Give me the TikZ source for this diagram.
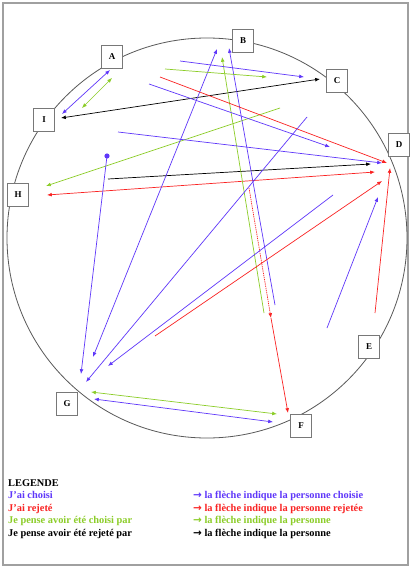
\documentclass[tikz,border=0pt]{standalone}
\usepackage{fontspec}
\setmainfont{Liberation Serif}
\newfontfamily\arrowfont{DejaVu Sans}
\usetikzlibrary{arrows.meta}
\definecolor{cblue}{RGB}{95,55,250}
\definecolor{cred}{RGB}{250,35,35}
\definecolor{cgreen}{RGB}{140,205,40}
\definecolor{cframe}{RGB}{160,160,160}
\definecolor{cbox}{RGB}{120,120,120}
\newcommand{\legarrow}{{\arrowfont\bfseries\fontsize{10.5}{12}\selectfont →}}
\begin{document}
\begin{tikzpicture}[x=1bp,y=-1bp,
  pers/.style={draw=cbox, line width=0.8bp, fill=white, minimum width=21bp, minimum height=23bp, inner sep=0pt, font=\bfseries\fontsize{9}{10}\selectfont},
  tipx/.tip={Latex[length=4.8bp,width=3.8bp]},
  arr/.style={line width=0.7bp, -tipx},
  darr/.style={line width=0.7bp, tipx-tipx},
  leg/.style={anchor=base west, inner sep=0pt, font=\bfseries\fontsize{10.4}{12}\selectfont}]
\useasboundingbox (0,0) rectangle (413,571);
\fill[white] (0,0) rectangle (413,571);
\draw[cframe, line width=1.2bp] (3,3) rectangle (408,565);
\draw[black!65, line width=0.8bp] (207,238) circle[radius=200bp];
% person boxes
\node[pers] (A) at (112,57) {A};
\node[pers] (B) at (243,41) {B};
\node[pers] (C) at (337,81) {C};
\node[pers] (D) at (399,145) {D};
\node[pers] (E) at (369,347) {E};
\node[pers] (F) at (301,426) {F};
\node[pers] (G) at (67,404) {G};
\node[pers] (H) at (18,195) {H};
\node[pers] (I) at (44,120) {I};
% end points
\coordinate (p1a) at (110,70);  \coordinate (p1b) at (62,114);
\coordinate (p2a) at (112,78);  \coordinate (p2b) at (82,108);
\coordinate (p3a) at (61,118);  \coordinate (p3b) at (320,79);
\coordinate (p4a) at (280,108); \coordinate (p4b) at (46,186);
\coordinate (p5a) at (47,195);  \coordinate (p5b) at (375,172);
\coordinate (p6a) at (108,179); \coordinate (p6b) at (371,164);
\coordinate (p7a) at (107,156); \coordinate (p7b) at (81,374);
\coordinate (p8a) at (217,49);  \coordinate (p8b) at (93,357);
\coordinate (p9a) at (275,305); \coordinate (p9b) at (229,48);
\coordinate (p10a) at (264,313); \coordinate (p10b) at (222,57);
\coordinate (p11a) at (249,188); \coordinate (p11m) at (271,318); \coordinate (p11b) at (288,413);
\coordinate (p12a) at (180,61); \coordinate (p12b) at (304,77);
\coordinate (p13a) at (165,69); \coordinate (p13b) at (267,77);
\coordinate (p14a) at (160,77); \coordinate (p14b) at (387,163);
\coordinate (p15a) at (149,84); \coordinate (p15b) at (330,147);
\coordinate (p16a) at (118,132); \coordinate (p16b) at (382,163);
\coordinate (p17a) at (307,117); \coordinate (p17b) at (86,382);
\coordinate (p18a) at (333,195); \coordinate (p18b) at (108,366);
\coordinate (p19a) at (155,336); \coordinate (p19b) at (382,181);
\coordinate (p20a) at (327,328); \coordinate (p20b) at (378,197);
\coordinate (p21a) at (375,313); \coordinate (p21b) at (390,168);
\coordinate (p22a) at (91,392); \coordinate (p22b) at (277,414);
\coordinate (p23a) at (94,399); \coordinate (p23b) at (273,422);
% connectors
\draw[darr, cblue] (p1a) -- (p1b);
\draw[darr, cgreen] (p2a) -- (p2b);
\draw[darr, black] (p3a) -- (p3b);
\draw[arr, cgreen] (p4a) -- (p4b);
\draw[darr, cred] (p5a) -- (p5b);
\draw[arr, black] (p6a) -- (p6b);
\fill[cblue] (p7a) circle[radius=2.6bp];
\draw[arr, cblue] (p7a) -- (p7b);
\draw[darr, cblue] (p8a) -- (p8b);
\draw[arr, cblue] (p9a) -- (p9b);
\draw[arr, cgreen] (p10a) -- (p10b);
\draw[arr, cred, dash pattern=on 1.3bp off 0.9bp] (p11a) -- (p11m);
\draw[arr, cred] (p11m) -- (p11b);
\draw[arr, cblue] (p12a) -- (p12b);
\draw[arr, cgreen] (p13a) -- (p13b);
\draw[arr, cred] (p14a) -- (p14b);
\draw[arr, cblue] (p15a) -- (p15b);
\draw[arr, cblue] (p16a) -- (p16b);
\draw[arr, cblue] (p17a) -- (p17b);
\draw[arr, cblue] (p18a) -- (p18b);
\draw[arr, cred] (p19a) -- (p19b);
\draw[arr, cblue] (p20a) -- (p20b);
\draw[arr, cred] (p21a) -- (p21b);
\draw[darr, cgreen] (p22a) -- (p22b);
\draw[darr, cblue] (p23a) -- (p23b);
% legend
\node[leg] (lg) at (8,486) {LEGENDE};
\node[leg, text=cblue] (l1) at (8,498.5) {J’ai choisi};
\node[leg, text=cred] (l2) at (8,511) {J’ai rejeté};
\node[leg, text=cgreen] (l3) at (8,523.5) {Je pense avoir été choisi par};
\node[leg, text=black] (l4) at (8,536) {Je pense avoir été rejeté par};
\node[leg, text=cblue] (r1) at (193,498.5) {\legarrow\ la flèche indique la personne choisie};
\node[leg, text=cred] (r2) at (193,511) {\legarrow\ la flèche indique la personne rejetée};
\node[leg, text=cgreen] (r3) at (193,523.5) {\legarrow\ la flèche indique la personne};
\node[leg, text=black] (r4) at (193,536) {\legarrow\ la flèche indique la personne};
\end{tikzpicture}
\end{document}
